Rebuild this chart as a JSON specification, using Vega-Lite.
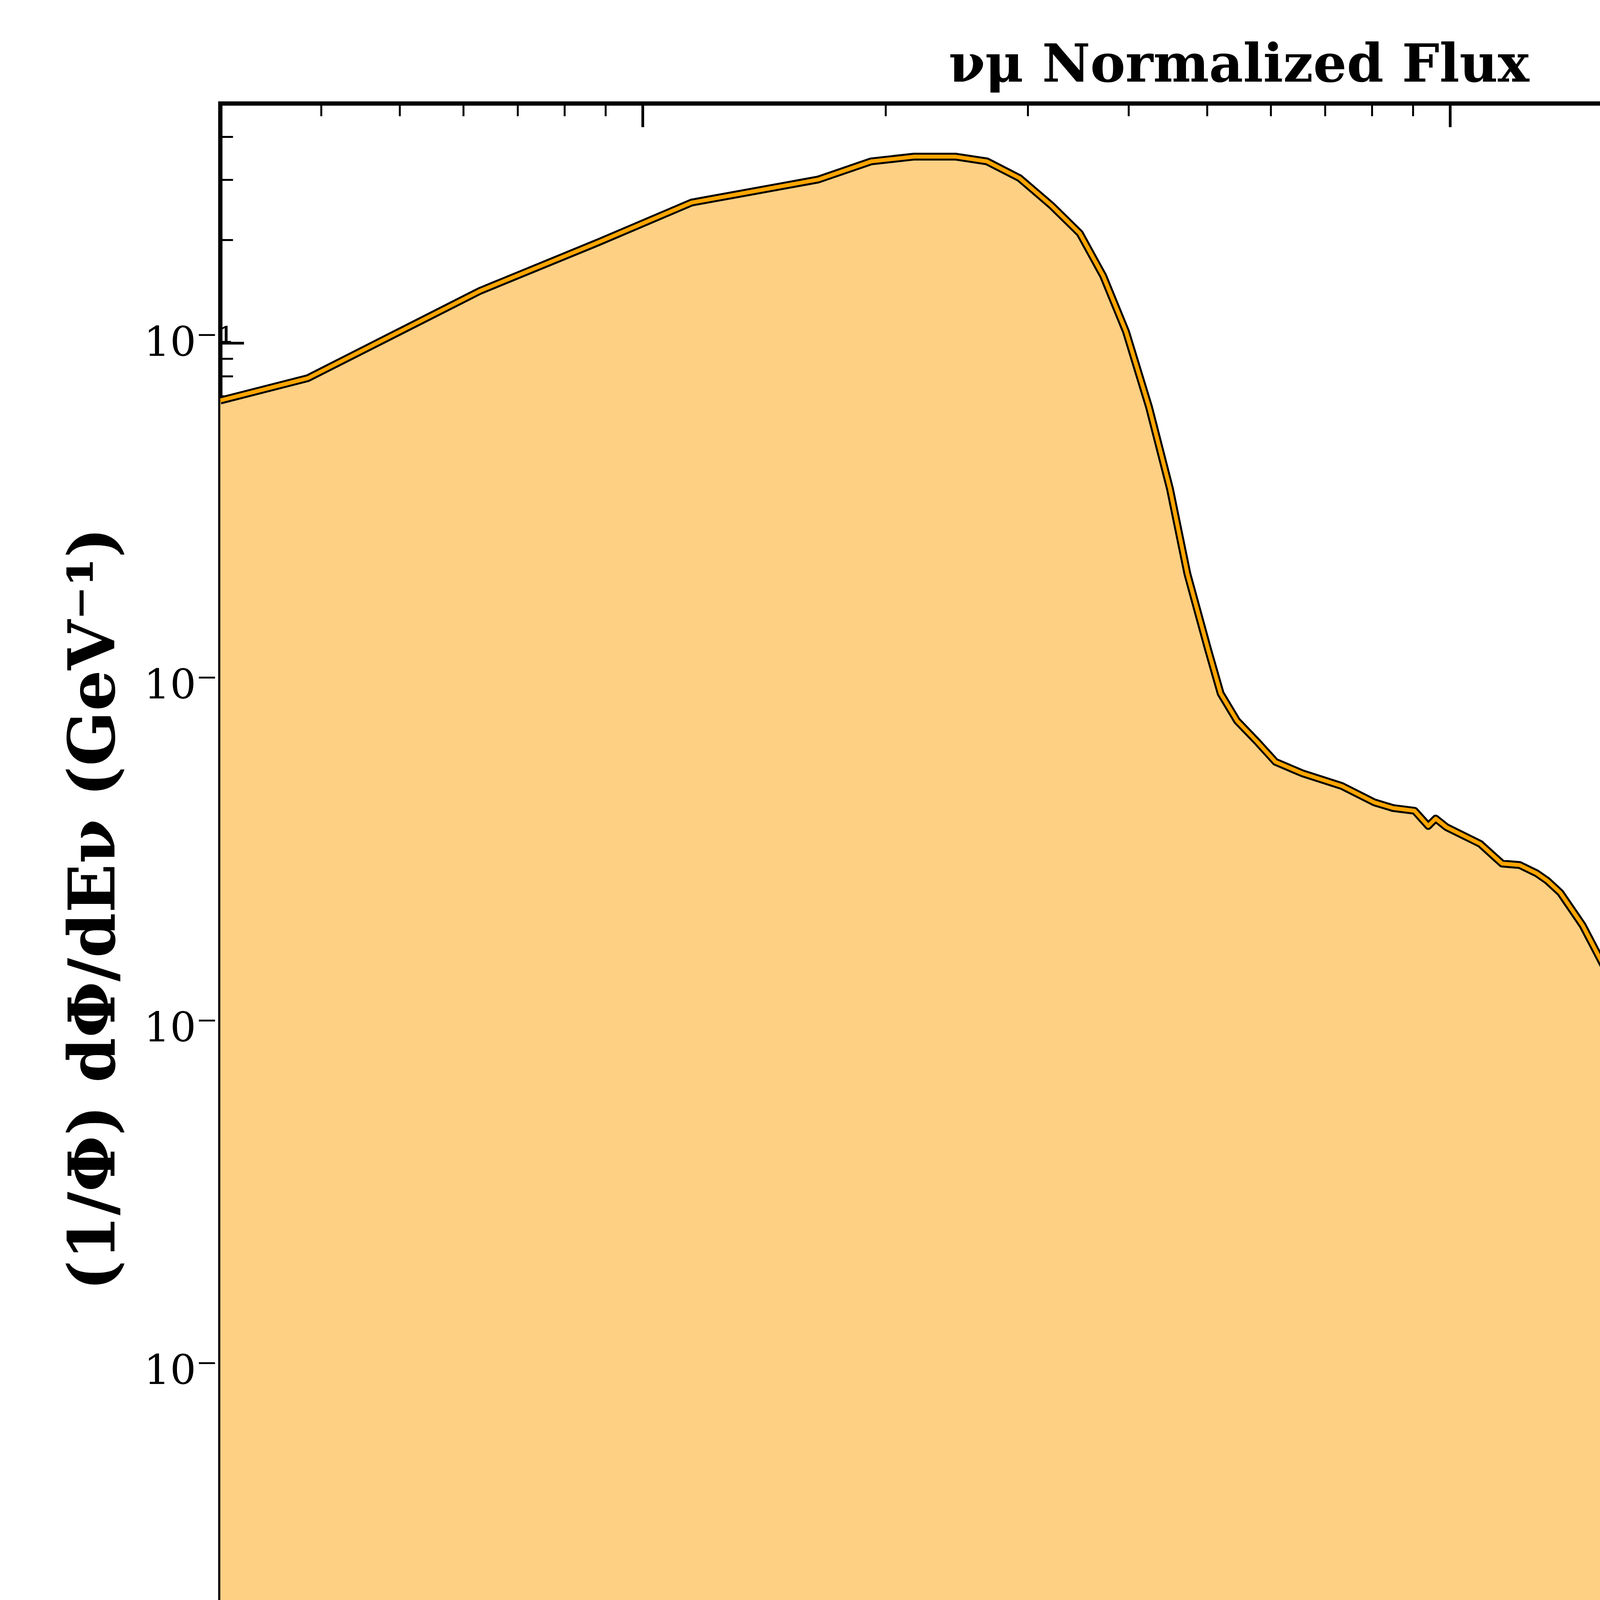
{
"$schema":"https://vega.github.io/schema/vega-lite/v6.json",
"width":6000,"height":4800,
"autosize":{"type":"fit","contains":"padding"},
"padding":{"left":160,"top":100,"right":217,"bottom":120},
"background":"white",
"title":{"text":"νμ Normalized Flux","font":"DejaVu Serif","fontSize":135,"fontWeight":"bold","offset":25},
"data":{"values":[
{"E":0.3,"F":0.068,"s":"DUNE Std."},
{"E":0.385,"F":0.079,"s":"DUNE Std."},
{"E":0.629,"F":0.142,"s":"DUNE Std."},
{"E":0.887,"F":0.198,"s":"DUNE Std."},
{"E":1.15,"F":0.257,"s":"DUNE Std."},
{"E":1.65,"F":0.30,"s":"DUNE Std."},
{"E":1.92,"F":0.339,"s":"DUNE Std."},
{"E":2.17,"F":0.35,"s":"DUNE Std."},
{"E":2.44,"F":0.35,"s":"DUNE Std."},
{"E":2.67,"F":0.339,"s":"DUNE Std."},
{"E":2.93,"F":0.303,"s":"DUNE Std."},
{"E":3.21,"F":0.252,"s":"DUNE Std."},
{"E":3.48,"F":0.209,"s":"DUNE Std."},
{"E":3.72,"F":0.157,"s":"DUNE Std."},
{"E":3.97,"F":0.108,"s":"DUNE Std."},
{"E":4.24,"F":0.065,"s":"DUNE Std."},
{"E":4.5,"F":0.0376,"s":"DUNE Std."},
{"E":4.73,"F":0.0212,"s":"DUNE Std."},
{"E":5.02,"F":0.0127,"s":"DUNE Std."},
{"E":5.2,"F":0.0095,"s":"DUNE Std."},
{"E":5.45,"F":0.0079,"s":"DUNE Std."},
{"E":5.76,"F":0.0069,"s":"DUNE Std."},
{"E":6.08,"F":0.006,"s":"DUNE Std."},
{"E":6.56,"F":0.00556,"s":"DUNE Std."},
{"E":7.35,"F":0.0051,"s":"DUNE Std."},
{"E":8.06,"F":0.00457,"s":"DUNE Std."},
{"E":8.5,"F":0.0044,"s":"DUNE Std."},
{"E":9.04,"F":0.00432,"s":"DUNE Std."},
{"E":9.4,"F":0.0039,"s":"DUNE Std."},
{"E":9.6,"F":0.0041,"s":"DUNE Std."},
{"E":9.9,"F":0.00387,"s":"DUNE Std."},
{"E":10.9,"F":0.00346,"s":"DUNE Std."},
{"E":11.6,"F":0.00303,"s":"DUNE Std."},
{"E":12.2,"F":0.0030,"s":"DUNE Std."},
{"E":12.8,"F":0.00284,"s":"DUNE Std."},
{"E":13.2,"F":0.0027,"s":"DUNE Std."},
{"E":13.7,"F":0.00249,"s":"DUNE Std."},
{"E":14.6,"F":0.002,"s":"DUNE Std."},
{"E":15.7,"F":0.00144,"s":"DUNE Std."},
{"E":16.2,"F":0.00125,"s":"DUNE Std."},
{"E":16.8,"F":0.0011,"s":"DUNE Std."},
{"E":17.2,"F":0.00096,"s":"DUNE Std."},
{"E":18.0,"F":0.00083,"s":"DUNE Std."},
{"E":18.6,"F":0.00072,"s":"DUNE Std."},
{"E":19.2,"F":0.00068,"s":"DUNE Std."},
{"E":19.7,"F":0.000666,"s":"DUNE Std."},
{"E":20.3,"F":0.00058,"s":"DUNE Std."},
{"E":20.8,"F":0.00066,"s":"DUNE Std."},
{"E":21.6,"F":0.000536,"s":"DUNE Std."},
{"E":22.3,"F":0.00058,"s":"DUNE Std."},
{"E":23.0,"F":0.00042,"s":"DUNE Std."},
{"E":23.7,"F":0.000366,"s":"DUNE Std."},
{"E":24.5,"F":0.00033,"s":"DUNE Std."},
{"E":25.2,"F":0.00036,"s":"DUNE Std."},
{"E":26.0,"F":0.000277,"s":"DUNE Std."},
{"E":26.8,"F":0.00026,"s":"DUNE Std."},
{"E":27.5,"F":0.00022,"s":"DUNE Std."},
{"E":28.5,"F":0.000177,"s":"DUNE Std."},
{"E":29.5,"F":0.00018,"s":"DUNE Std."},
{"E":29.9,"F":0.00029,"s":"DUNE Std."},
{"E":30.5,"F":0.00015,"s":"DUNE Std."},
{"E":31.3,"F":0.000135,"s":"DUNE Std."},
{"E":32.2,"F":0.00012,"s":"DUNE Std."},
{"E":33.0,"F":0.000105,"s":"DUNE Std."},
{"E":34.3,"F":0.000102,"s":"DUNE Std."},
{"E":35.2,"F":0.00008,"s":"DUNE Std."},
{"E":36.0,"F":0.00011,"s":"DUNE Std."},
{"E":37.0,"F":0.00007,"s":"DUNE Std."},
{"E":38.0,"F":0.000085,"s":"DUNE Std."},
{"E":39.0,"F":0.0002,"s":"DUNE Std."},
{"E":39.6,"F":0.00007,"s":"DUNE Std."},
{"E":40.3,"F":0.00006,"s":"DUNE Std."},
{"E":41.2,"F":0.000054,"s":"DUNE Std."},
{"E":42.2,"F":0.000032,"s":"DUNE Std."},
{"E":43.0,"F":0.000048,"s":"DUNE Std."},
{"E":44.0,"F":0.000028,"s":"DUNE Std."},
{"E":45.2,"F":0.000038,"s":"DUNE Std."},
{"E":46.2,"F":0.000024,"s":"DUNE Std."},
{"E":47.3,"F":0.000059,"s":"DUNE Std."},
{"E":48.3,"F":0.00002,"s":"DUNE Std."},
{"E":49.5,"F":0.000035,"s":"DUNE Std."},
{"E":50.7,"F":0.000025,"s":"DUNE Std."},
{"E":51.8,"F":0.000013,"s":"DUNE Std."},
{"E":53.0,"F":0.00003,"s":"DUNE Std."},
{"E":54.2,"F":0.000016,"s":"DUNE Std."},
{"E":55.2,"F":0.000008,"s":"DUNE Std."},
{"E":56.5,"F":0.000018,"s":"DUNE Std."},
{"E":58.0,"F":0.000026,"s":"DUNE Std."},
{"E":59.5,"F":0.000009,"s":"DUNE Std."},
{"E":61.0,"F":0.000014,"s":"DUNE Std."},
{"E":62.5,"F":0.000011,"s":"DUNE Std."},
{"E":64.0,"F":0.000006,"s":"DUNE Std."},
{"E":65.0,"F":0.000016,"s":"DUNE Std."},
{"E":66.5,"F":0.000005,"s":"DUNE Std."},
{"E":68.0,"F":0.000015,"s":"DUNE Std."},
{"E":69.0,"F":0.000004,"s":"DUNE Std."},
{"E":70.0,"F":0.000001,"s":"DUNE Std."}
]},
"config":{
"view":{"stroke":"black","strokeWidth":11},
"axis":{"domain":false,"grid":false,"tickColor":"black","tickWidth":7,"labelFont":"DejaVu Serif","labelFontSize":105,"labelColor":"black","labelLimit":0,"titleFont":"DejaVu Serif","titleColor":"black","titleLimit":0}
},
"resolve":{"axis":{"x":"independent","y":"independent"}},
"layer":[
{"mark":{"type":"area","color":"#FED084","clip":true},
 "encoding":{
  "x":{"field":"E","type":"quantitative","scale":{"type":"log","domain":[0.3,100],"nice":false},
   "axis":{"orient":"bottom","values":[1,10,100],"tickSize":-60,"labelPadding":35,
    "labelExpr":"datum.value<5?'10⁰':datum.value<50?'10¹':'10²'",
    "title":"Neutrino Energy Eν (GeV)","titleFontSize":185,"titleFontWeight":"bold","titlePadding":30}},
  "y":{"field":"F","type":"quantitative","scale":{"type":"log","domain":[0.00001,0.5],"nice":false},
   "axis":{"orient":"left","values":[0.00001,0.0001,0.001,0.01,0.1],"tickSize":-60,"labelPadding":25,
    "labelExpr":"datum.value<5e-5?'10⁻⁵':datum.value<5e-4?'10⁻⁴':datum.value<5e-3?'10⁻³':datum.value<5e-2?'10⁻²':'10⁻¹'",
    "title":"(1/Φ) dΦ/dEν (GeV⁻¹)","titleFontSize":165,"titleFontWeight":"bold","titlePadding":40}},
  "y2":{"datum":0.000001}}},
{"mark":{"type":"line","color":"black","strokeWidth":20,"clip":true,"strokeJoin":"round"},
 "encoding":{
  "x":{"field":"E","type":"quantitative","axis":{"orient":"top","values":[1,10,100],"tickSize":-60,"labels":false,"title":null}},
  "y":{"field":"F","type":"quantitative","axis":{"orient":"right","values":[0.00001,0.0001,0.001,0.01,0.1],"tickSize":-60,"labels":false,"title":null}}}},
{"mark":{"type":"line","strokeWidth":10,"clip":true,"strokeJoin":"round"},
 "encoding":{
  "x":{"field":"E","type":"quantitative","axis":{"orient":"bottom","values":[0.4,0.5,0.6,0.7,0.8,0.9,2,3,4,5,6,7,8,9,20,30,40,50,60,70,80,90],"tickSize":-32,"tickWidth":5,"labels":false,"title":null}},
  "y":{"field":"F","type":"quantitative","axis":{"orient":"left","values":[0.00002,0.00003,0.00004,0.00005,0.00006,0.00007,0.00008,0.00009,0.0002,0.0003,0.0004,0.0005,0.0006,0.0007,0.0008,0.0009,0.002,0.003,0.004,0.005,0.006,0.007,0.008,0.009,0.02,0.03,0.04,0.05,0.06,0.07,0.08,0.09,0.2,0.3,0.4],"tickSize":-32,"tickWidth":5,"labels":false,"title":null}},
  "color":{"field":"s","type":"nominal","scale":{"range":["#FFA500"]},
   "legend":{"title":null,"orient":"top-right","symbolType":"stroke","symbolStrokeWidth":18,"symbolSize":40000,"labelFont":"DejaVu Serif","labelFontSize":140,"labelColor":"black","labelLimit":0,"offset":120,"padding":0}}}},
{"mark":{"type":"line","opacity":0,"clip":true},
 "encoding":{
  "x":{"field":"E","type":"quantitative","axis":{"orient":"top","values":[0.4,0.5,0.6,0.7,0.8,0.9,2,3,4,5,6,7,8,9,20,30,40,50,60,70,80,90],"tickSize":-32,"tickWidth":5,"labels":false,"title":null}},
  "y":{"field":"F","type":"quantitative","axis":{"orient":"right","values":[0.00002,0.00003,0.00004,0.00005,0.00006,0.00007,0.00008,0.00009,0.0002,0.0003,0.0004,0.0005,0.0006,0.0007,0.0008,0.0009,0.002,0.003,0.004,0.005,0.006,0.007,0.008,0.009,0.02,0.03,0.04,0.05,0.06,0.07,0.08,0.09,0.2,0.3,0.4],"tickSize":-32,"tickWidth":5,"labels":false,"title":null}}}}
]
}
